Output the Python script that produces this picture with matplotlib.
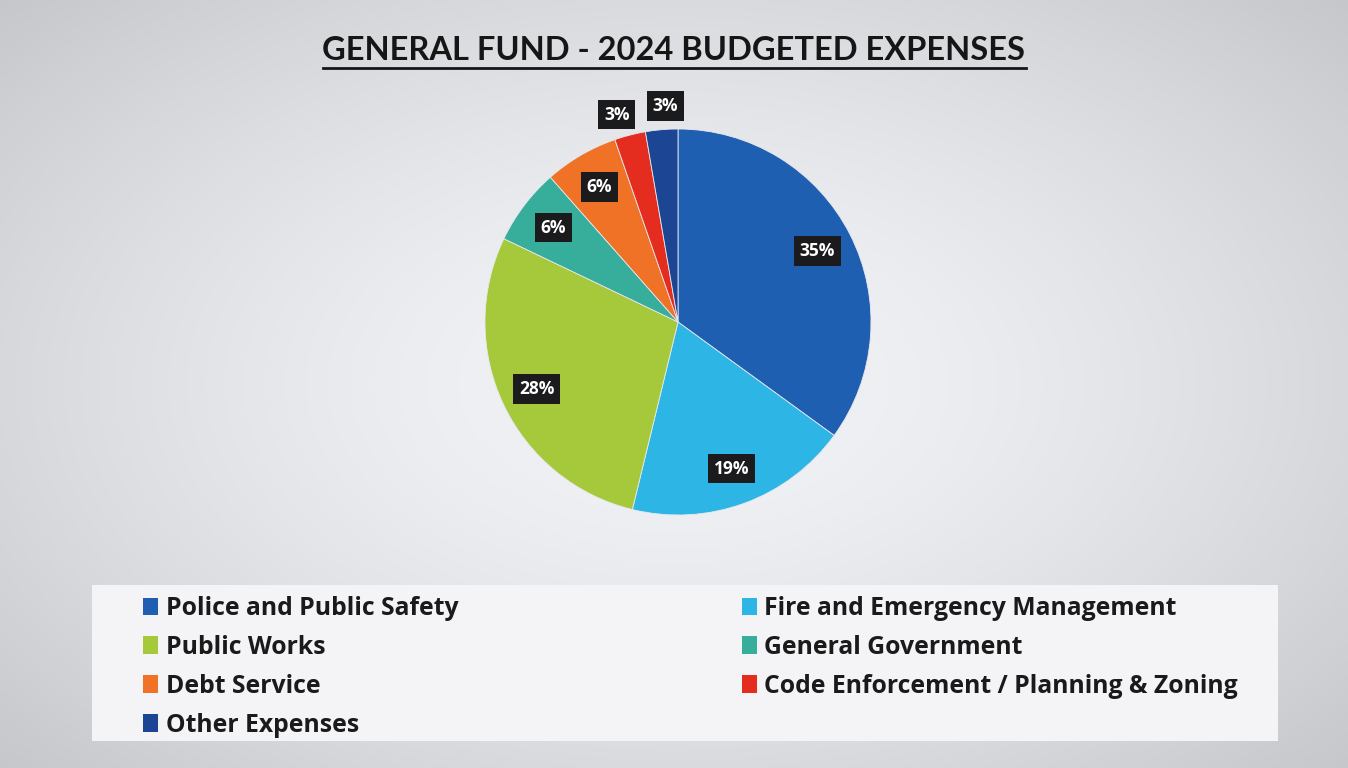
import numpy as np
import matplotlib
matplotlib.use("Agg")
import matplotlib.pyplot as plt
from matplotlib.lines import Line2D
from matplotlib.patches import Patch, Rectangle

# data (percent of budget)
categories = ["Police and Public Safety", "Fire and Emergency Management",
              "Public Works", "General Government", "Debt Service",
              "Code Enforcement / Planning & Zoning", "Other Expenses"]
shares = [35.0, 18.8, 28.3, 6.4, 6.2, 2.6, 2.7]
colors = ["#1f5fb2", "#2db5e5", "#a5c93b", "#37ad9c", "#ef7226", "#e42d1f", "#1c4593"]
title = "GENERAL FUND - 2024 BUDGETED EXPENSES"

W, H = 1348, 768
fig = plt.figure(figsize=(W / 100, H / 100), dpi=100)

# grey gradient background, lighter in the middle
bg = fig.add_axes([0, 0, 1, 1], zorder=-10)
yy, xx = np.mgrid[-1:1:200j, -1:1:350j]
r = np.sqrt((xx * 0.95) ** 2 + (yy * 0.9) ** 2)
shade = 0.955 - 0.15 * np.clip(r - 0.25, 0, None) ** 1.3
bg.imshow(np.dstack([shade * 0.98, shade * 0.985, shade]), aspect="auto",
          extent=[0, 1, 0, 1], interpolation="bicubic")
bg.set_axis_off()

# pie, centred at about (678, 322) px with radius ~193 px
cx, cy, rad = 678, 322, 193
ax = fig.add_axes([(cx - rad) / W, (H - cy - rad) / H, 2 * rad / W, 2 * rad / H])
wedges, _ = ax.pie(shares, colors=colors, startangle=90, counterclock=False,
                   radius=1, wedgeprops=dict(linewidth=0.6, edgecolor="#e8e8ee"))
ax.set_xlim(-1, 1)
ax.set_ylim(-1, 1)
ax.set_aspect("equal")

for i, (w, v) in enumerate(zip(wedges, shares)):
    mid = (w.theta1 + w.theta2) / 2
    d = 0.81
    if v < 4:
        d = 1.12
        # spread the two small outside labels apart a little
        mid += 2 if i == len(shares) - 2 else -1.5
    mid = np.deg2rad(mid)
    ax.text(d * np.cos(mid), d * np.sin(mid), f"{round(v)}%", ha="center", va="center",
            color="white", fontsize=12.5, fontweight="bold", family="Open Sans",
            bbox=dict(boxstyle="square,pad=0.33", facecolor="#1b1b1d", edgecolor="none"),
            clip_on=False)

# title with underline
t = fig.text(0.5, 1 - 50 / H, title, ha="center", va="center", fontsize=23.5,
             fontweight="bold", family="Lato", color="#161616")
fig.canvas.draw()
bb = t.get_window_extent()
y_ul = (bb.y0 - 3) / H
fig.add_artist(Line2D([bb.x0 / W, bb.x1 / W], [y_ul, y_ul], color="#161616", lw=2))

# legend panel
fig.add_artist(Rectangle((92 / W, (H - 741) / H), (1278 - 92) / W, (741 - 585) / H,
                         transform=fig.transFigure, facecolor="#f4f3f6", edgecolor="none",
                         zorder=-5))

# legend, filled row by row like the original
order = [0, 2, 4, 6, 1, 3, 5]
handles = [Patch(facecolor=colors[i], edgecolor="none") for i in order]
labels = [categories[i] for i in order]
leg = fig.legend(handles, labels, ncol=2, loc="upper left",
                 bbox_to_anchor=(143 / W, (H - 596) / H, (1238 - 143) / W, 0.0),
                 mode="expand", frameon=False,
                 prop=dict(family="Open Sans", weight="bold", size=17.8),
                 handlelength=0.62, handleheight=0.72, handletextpad=0.3,
                 labelspacing=0.56, borderpad=0, borderaxespad=0)
for txt in leg.get_texts():
    txt.set_color("#1a1a1a")

fig.savefig("out.png", dpi=100)
